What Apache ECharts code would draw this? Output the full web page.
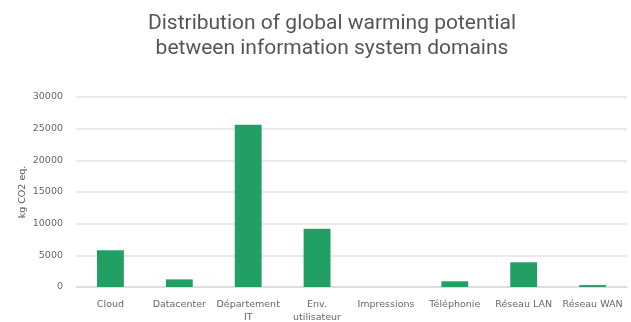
<!DOCTYPE html>
<html><head><meta charset="utf-8">
<script src="https://cdn.jsdelivr.net/npm/echarts@6/dist/echarts.min.js"></script>
<style>html,body{margin:0;padding:0;background:#fff}#c{width:631px;height:322px}</style>
</head><body><div id="c"></div>
<script>
const categories = ["Cloud", "Datacenter", "Département\nIT", "Env.\nutilisateur", "Impressions", "Téléphonie", "Réseau LAN", "Réseau WAN"];
const values = [5800, 1200, 25600, 9200, 0, 900, 3900, 300];
const yTicks = [0, 5000, 10000, 15000, 20000, 25000, 30000];
const titleText = "Distribution of global warming potential\nbetween information system domains";
const yName = "kg CO2 eq.";

const chart = echarts.init(document.getElementById('c'), null, {renderer: 'canvas'});
chart.setOption({
  animation: false,
  title: {
    text: titleText, left: 327, top: 6, textAlign: 'center',
    textStyle: {fontFamily: 'Roboto', fontWeight: 'normal', fontSize: 21, color: '#555', lineHeight: 25}
  },
  grid: {left: 76, right: 4, top: 97, bottom: 35, containLabel: false, outerBoundsMode: 'none'},
  xAxis: {
    type: 'category', data: categories,
    axisLine: {lineStyle: {color: '#d9d9d9', width: 1.5}},
    axisTick: {show: false},
    axisLabel: {interval: 0, fontFamily: 'DejaVu Sans', fontSize: 9.5, color: '#666', lineHeight: 13, margin: 11}
  },
  yAxis: {
    type: 'value', min: yTicks[0], max: yTicks[yTicks.length - 1], interval: 5000,
    name: yName, nameLocation: 'middle', nameGap: 48, nameRotate: 90, nameMoveOverlap: false,
    nameTextStyle: {fontFamily: 'DejaVu Sans', fontSize: 9.5, color: '#555'},
    axisLine: {show: false}, axisTick: {show: false},
    axisLabel: {fontFamily: 'DejaVu Sans', fontSize: 9.5, color: '#666', margin: 13, formatter: v => String(v)},
    splitLine: {lineStyle: {color: '#e3e3e3', width: 1.5}}
  },
  series: [{
    type: 'bar', data: values, barWidth: '39%',
    itemStyle: {color: '#22a063'}
  }]
});
</script></body></html>
